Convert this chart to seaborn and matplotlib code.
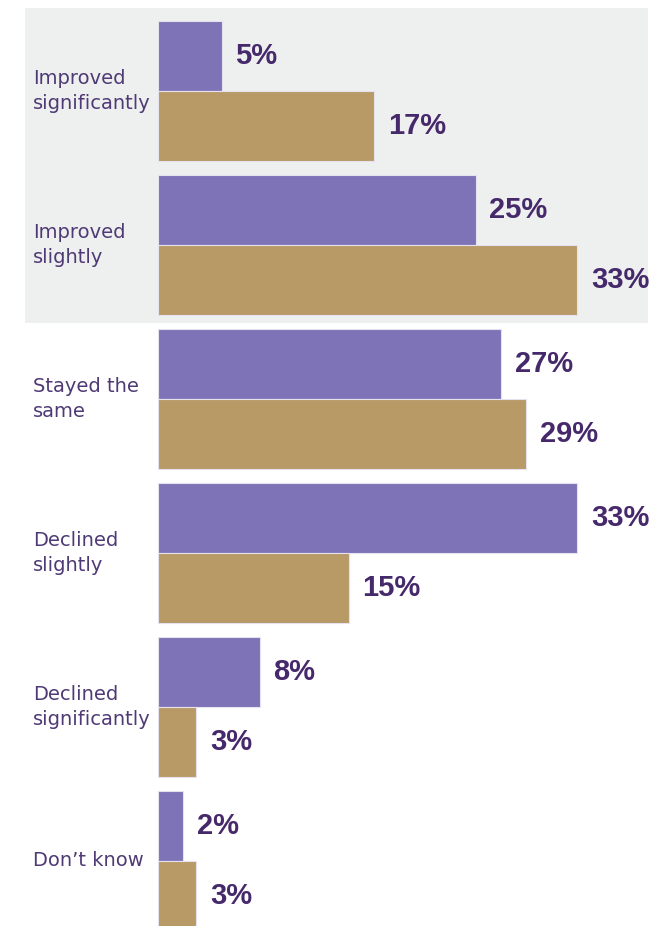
import matplotlib
matplotlib.use("Agg")
import matplotlib.pyplot as plt
import seaborn as sns
import pandas as pd
from matplotlib.patches import Rectangle

categories = ["Improved\nsignificantly", "Improved\nslightly", "Stayed the\nsame",
              "Declined\nslightly", "Declined\nsignificantly", "Don\u2019t know"]
series_names = ["Group 1", "Group 2"]
purple_values = [5, 25, 27, 33, 8, 2]
tan_values = [17, 33, 29, 15, 3, 3]

rows = []
for c, v in zip(categories, purple_values):
    rows.append({"category": c, "series": series_names[0], "value": v})
for c, v in zip(categories, tan_values):
    rows.append({"category": c, "series": series_names[1], "value": v})
df = pd.DataFrame(rows)

W, H = 668, 926
DPI = 100
sns.set_theme(style="white")
plt.rcParams["font.family"] = ["DejaVu Sans"]

fig = plt.figure(figsize=(W / DPI, H / DPI), dpi=DPI)
fig.patch.set_facecolor("white")

# gray background panel behind first two categories
fig.patches.append(Rectangle((25 / W, 1 - 323 / H), (648 - 25) / W, (323 - 8) / H,
                             transform=fig.transFigure, facecolor="#EEEFEF",
                             edgecolor="none", zorder=-5))

left = 158 / W
ax = fig.add_axes([left, 0, 1 - left, 1])
ax.set_zorder(2)
ax.set_facecolor("none")
ax.patch.set_alpha(0)

purple = "#7E73B6"
tan = "#B89A67"
sns.barplot(data=df, y="category", x="value", hue="series", orient="h",
            palette=[purple, tan], saturation=1, width=0.91, dodge=True, ax=ax,
            edgecolor="#E6E1EE", linewidth=0.8, legend=False)

px_per_unit = 12.7
ax.set_xlim(0, (W - 158) / px_per_unit)
ax.set_ylim(5 + (926 - 861) / 154, -91 / 154)
ax.set_xlabel("")
ax.set_ylabel("")
ax.set_xticks([])
ax.set_yticks([])
for s in ax.spines.values():
    s.set_visible(False)

value_color = "#46296B"
for container in ax.containers:
    ax.bar_label(container, labels=[f"{int(round(w))}%" for w in container.datavalues],
                 padding=10, fontsize=21, fontweight="bold", color=value_color,
                 family=["Liberation Sans", "DejaVu Sans"])

label_color = "#4F3A75"
for i, c in enumerate(categories):
    fig.text(33 / W, 1 - (91 + 154 * i) / H, c, ha="left", va="center",
             fontsize=14, color=label_color, linespacing=1.4,
             family=["DejaVu Sans"], zorder=3)

fig.savefig("out.png", dpi=DPI)
